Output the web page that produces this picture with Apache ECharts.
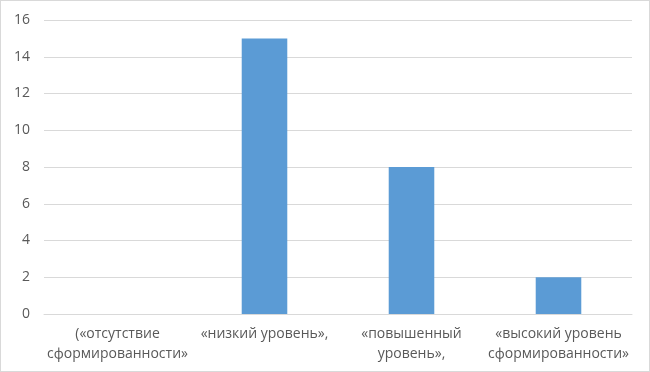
<!DOCTYPE html>
<html><head><meta charset="utf-8">
<script src="https://cdn.jsdelivr.net/npm/echarts@6/dist/echarts.min.js"></script>
<style>html,body{margin:0;padding:0;background:#fff}#c{position:absolute;left:0;top:0;width:648px;height:370px;border:1px solid #d9d9d9}</style>
</head><body><div id="c"></div>
<script>
const categories = ["(«отсутствие\nсформированности»", "«низкий уровень»,", "«повышенный\nуровень»,", "«высокий уровень\nсформированности»"];
const values = [0, 15, 8, 2];
const yTicks = {min: 0, max: 16, interval: 2};
const chart = echarts.init(document.getElementById('c'));
chart.setOption({
  animation: false,
  grid: {left: 43, right: 17, top: 19, bottom: 57},
  xAxis: {
    type: 'category', data: categories,
    axisLine: {lineStyle: {color: '#d9d9d9'}},
    axisTick: {show: false},
    axisLabel: {color: '#595959', fontSize: 14, fontFamily: 'Open Sans', lineHeight: 20, margin: 10, interval: 0}
  },
  yAxis: {
    type: 'value', min: yTicks.min, max: yTicks.max, interval: yTicks.interval,
    axisLine: {show: false}, axisTick: {show: false},
    splitLine: {lineStyle: {color: '#d9d9d9'}},
    axisLabel: {color: '#595959', fontSize: 14, fontFamily: 'Open Sans', margin: 14}
  },
  series: [{type: 'bar', data: values, barWidth: '31%', itemStyle: {color: '#5b9bd5'}}]
});
</script></body></html>
